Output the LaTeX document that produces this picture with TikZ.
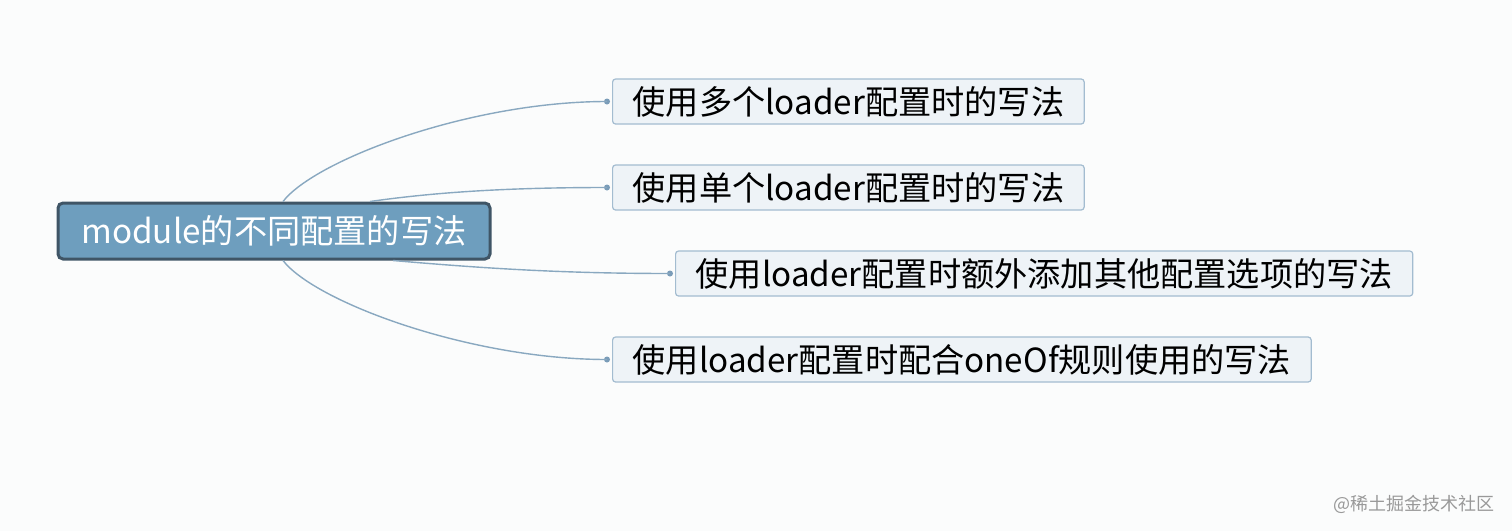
\documentclass[tikz,border=0pt]{standalone}
\usepackage{fontspec}
\usepackage{tikz}
\newfontfamily\cjk{Noto Sans CJK SC}
\definecolor{bgcol}{HTML}{FBFCFC}
\definecolor{rootfill}{HTML}{6E9EBE}
\definecolor{rootline}{HTML}{3F5566}
\definecolor{leaffill}{HTML}{EEF3F7}
\definecolor{leafline}{HTML}{A3BCD0}
\definecolor{linkcol}{HTML}{89A8C0}
\definecolor{markcol}{HTML}{7A9CB8}
\newcommand{\mapsize}{\fontsize{16.6}{19}\selectfont}

\begin{document}
\begin{tikzpicture}
[x=0.5pt,y=-0.5pt,
root node/.style={rectangle, draw=rootline, fill=rootfill, line width=1.5pt, rounded corners=2.5pt, minimum width=216pt, minimum height=28pt, text=white, font={\cjk\mapsize}, inner sep=0pt},
leaf node/.style={rectangle, draw=leafline, fill=leaffill, line width=0.6pt, rounded corners=1.5pt, anchor=west, minimum height=22.5pt, text=black, font={\cjk\mapsize}, inner xsep=10pt, inner ysep=0pt},
link/.style={draw=linkcol, line width=0.7pt},
knob/.style={circle, fill=markcol, inner sep=0pt, minimum size=3pt}]
    \fill[bgcol] (0,0) rectangle (1512,531);
    \node[root node] (root) at (274,231) {module的不同配置的写法};
    \node[leaf node] (multi) at (612,101.5) {使用多个loader配置时的写法};
    \node[leaf node] (single) at (612,187.5) {使用单个loader配置时的写法};
    \node[leaf node] (extra) at (675,273.5) {使用loader配置时额外添加其他配置选项的写法};
    \node[leaf node] (oneof) at (612,359.5) {使用loader配置时配合oneOf规则使用的写法};
    \node[knob] (kmulti) at ([xshift=-2.5pt]multi.west) {};
    \node[knob] (ksingle) at ([xshift=-2.5pt]single.west) {};
    \node[knob] (kextra) at ([xshift=-2.5pt]extra.west) {};
    \node[knob] (koneof) at ([xshift=-2.5pt]oneof.west) {};
    \path[link] ([xshift=4.5pt]root.north) .. controls (315,160) and (470,101.5) .. (kmulti.center);
    \path[link] ([xshift=48pt]root.north) .. controls (430,193) and (500,187.5) .. (ksingle.center);
    \path[link] ([xshift=59.5pt]root.south) .. controls (480,268) and (560,273.5) .. (kextra.center);
    \path[link] ([xshift=4.5pt]root.south) .. controls (315,302) and (470,359.5) .. (koneof.center);
    \node[text=black!40, font={\cjk\fontsize{9}{11}\selectfont}] (mark) at (1414,504) {@稀土掘金技术社区};
\end{tikzpicture}
\end{document}
